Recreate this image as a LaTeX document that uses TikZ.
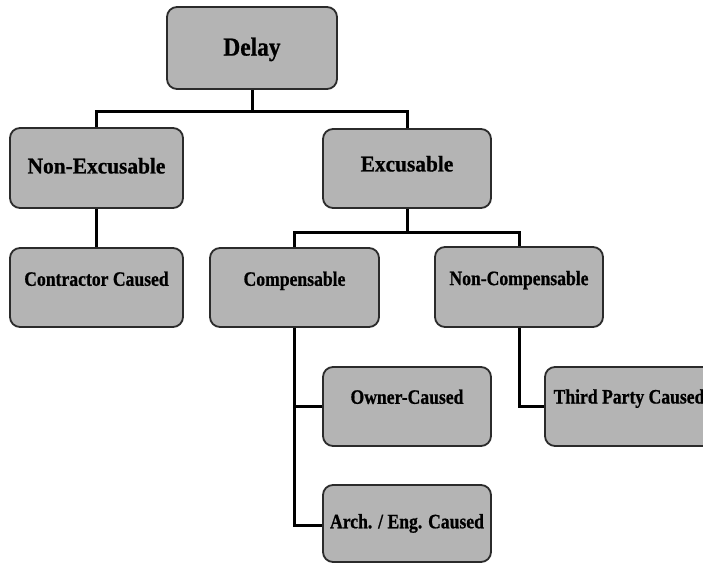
\documentclass[tikz,border=0pt]{standalone}
\usepackage{fontspec}
\setmainfont{Liberation Serif}
% Bold Times-like faces, slightly condensed per hierarchy level, with heavy ink
\newfontfamily\topfont[FakeStretch=0.90,FakeBold=0.8]{Liberation Serif}
\newfontfamily\midfont[FakeStretch=0.95,FakeBold=0.8]{Liberation Serif}
\newfontfamily\lowfont[FakeStretch=0.86,FakeBold=0.8]{Liberation Serif}
\definecolor{boxfill}{HTML}{B4B4B4}
\definecolor{boxline}{HTML}{2B2B2B}
\begin{document}
\begin{tikzpicture}[x=1pt,y=-1pt,
  box/.style={draw=boxline, line width=1.8pt, fill=boxfill,
    rounded corners=10pt, inner sep=0pt, align=center, text=black},
  levelA/.style={box, font=\topfont\bfseries\fontsize{26pt}{30pt}\selectfont,
    text height=17.2pt, text depth=0pt, minimum width=170pt, minimum height=82pt},
  levelB/.style={box, font=\midfont\bfseries\fontsize{22.5pt}{26pt}\selectfont,
    text height=14.9pt, text depth=0pt, minimum width=170pt, minimum height=80pt},
  levelC/.style={box, font=\lowfont\bfseries\fontsize{20.5pt}{24pt}\selectfont,
    text height=13.6pt, text depth=0pt, minimum width=169pt, minimum height=79pt},
  link/.style={line width=3pt, draw=black}]

  \fill[white] (0,0) rectangle (703,564);
  \clip (0,0) rectangle (703,564);

  % top level
  \node[levelA] (delay) at (252,48) {\raisebox{1pt}{Delay}};

  % second level
  \node[levelB, minimum width=173pt] (nonexc) at (96.5,168) {\raisebox{2pt}{Non-Excusable}};
  \node[levelB, minimum width=168pt, minimum height=79pt] (exc) at (407,168.5) {\raisebox{4.5pt}{Excusable}};

  % third level
  \node[levelC, minimum width=173pt] (contractor) at (96.5,287.5) {\raisebox{8.5pt}{Contractor Caused}};
  \node[levelC] (comp) at (294.5,287.5) {\raisebox{8.5pt}{Compensable}};
  \node[levelC, minimum width=168pt, minimum height=80pt] (noncomp) at (519,287) {\raisebox{8.7pt}{Non-Compensable}};

  % fourth level
  \node[levelC, minimum width=168pt] (owner) at (407,406.5) {\raisebox{9.5pt}{Owner-Caused}};
  \node[levelC, minimum width=168pt] (third) at (629,406.5) {\raisebox{9.8pt}{Third Party Caused}};
  \node[levelC, minimum width=168pt, minimum height=77pt] (arch) at (407,523.5) {\raisebox{2pt}{Arch. / Eng. Caused}};

  % connectors
  \draw[link] (delay.south) -- ++(0,22) coordinate (j1);
  \draw[link] (nonexc.north) |- (j1) -| (exc.north);
  \draw[link] (nonexc.south) -- (contractor.north);
  \draw[link] (exc.south) -- ++(0,24) coordinate (j2);
  \draw[link] (comp.north) |- (j2) -| (noncomp.north);
  \draw[link] (comp.south) |- ([yshift=-1.5pt]arch.west);
  \draw[link] (owner.west) -| (comp.south);
  \draw[link] (noncomp.south) |- (third.west);
\end{tikzpicture}
\end{document}
